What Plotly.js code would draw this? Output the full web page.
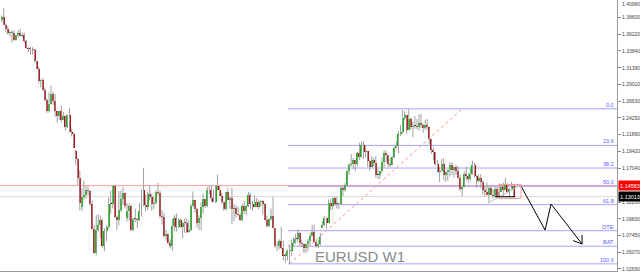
<!DOCTYPE html>
<html><head><meta charset="utf-8">
<script src="https://cdn.plot.ly/plotly-3.0.1.min.js"></script>
<style>html,body{margin:0;padding:0;background:#fff;overflow:hidden}#chart{width:640px;height:272px}</style>
</head><body><div id="chart"></div>
<script>
// EURUSD weekly candles (Apr 2014 - Feb 2019)
const opens=[1.3830,1.3870,1.3757,1.3696,1.3634,1.3637,1.3642,1.3541,1.3605,1.3645,1.3597,1.3606,1.3525,1.3430,1.3413,1.3411,1.3402,1.3240,1.3130,1.2950,1.2960,1.2830,1.2685,1.2520,1.2625,1.2760,1.2670,1.2525,1.2450,1.2525,1.2390,1.2450,1.2290,1.2465,1.2230,1.2190,1.1950,1.1840,1.1560,1.1150,1.1290,1.1320,1.1390,1.1380,1.1195,1.0840,1.0495,1.0820,1.0890,1.0970,1.0600,1.0810,1.0870,1.1200,1.1200,1.1450,1.1010,1.0970,1.1110,1.1270,1.1350,1.1000,1.1100,1.1160,1.0830,1.0980,1.0980,1.0970,1.1100,1.1390,1.1180,1.1150,1.1340,1.1300,1.1200,1.1210,1.1360,1.1350,1.1020,1.1010,1.0740,1.0770,1.0640,1.0590,1.0880,1.0990,1.0870,1.0970,1.0860,1.0920,1.0920,1.0800,1.0830,1.1160,1.1250,1.1130,1.0930,1.1000,1.1150,1.1270,1.1170,1.1390,1.1400,1.1280,1.1220,1.1450,1.1400,1.1310,1.1220,1.1130,1.1360,1.1250,1.1280,1.1120,1.1140,1.1050,1.1040,1.0970,1.1170,1.1090,1.1160,1.1330,1.1200,1.1150,1.1230,1.1150,1.1230,1.1240,1.1200,1.0970,1.0880,1.0980,1.1030,1.0850,1.0590,1.0590,1.0660,1.0560,1.0450,1.0450,1.0520,1.0530,1.0640,1.0700,1.0700,1.0780,1.0640,1.0620,1.0560,1.0620,1.0670,1.0740,1.0800,1.0650,1.0590,1.0620,1.0850,1.0890,1.0990,1.0930,1.1210,1.1160,1.1280,1.1200,1.1200,1.1190,1.1430,1.1400,1.1470,1.1660,1.1750,1.1770,1.1820,1.1760,1.1920,1.1860,1.2040,1.1940,1.1950,1.1810,1.1730,1.1820,1.1780,1.1610,1.1610,1.1660,1.1790,1.1930,1.1890,1.1770,1.1750,1.1860,1.2000,1.2030,1.2200,1.2220,1.2420,1.2460,1.2250,1.2410,1.2300,1.2310,1.2310,1.2290,1.2350,1.2320,1.2280,1.2330,1.2290,1.2130,1.1960,1.1940,1.1770,1.1650,1.1660,1.1770,1.1610,1.1650,1.1680,1.1750,1.1680,1.1720,1.1660,1.1570,1.1410,1.1440,1.1620,1.1600,1.1550,1.1620,1.1750,1.1600,1.1520,1.1560,1.1510,1.1400,1.1370,1.1330,1.1420,1.1330,1.1310,1.1410,1.1310,1.1370,1.1440,1.1400,1.1470,1.1360,1.1410,1.1450];
const highs=[1.3889,1.3993,1.3774,1.3734,1.3669,1.3677,1.3677,1.3614,1.3679,1.3700,1.3646,1.3640,1.3537,1.3445,1.3445,1.3435,1.3408,1.3240,1.3160,1.2975,1.3000,1.2860,1.2700,1.2790,1.2887,1.2800,1.2770,1.2530,1.2525,1.2600,1.2510,1.2455,1.2475,1.2570,1.2270,1.2215,1.1970,1.1860,1.1680,1.1420,1.1530,1.1450,1.1450,1.1390,1.1240,1.0890,1.1040,1.1050,1.1030,1.0990,1.0850,1.0890,1.1290,1.1390,1.1467,1.1450,1.1030,1.1380,1.1390,1.1440,1.1360,1.1210,1.1210,1.1190,1.0990,1.1130,1.0990,1.1210,1.1390,1.1714,1.1330,1.1370,1.1460,1.1340,1.1300,1.1390,1.1495,1.1390,1.1110,1.1070,1.0830,1.0770,1.0690,1.0980,1.1040,1.1060,1.0990,1.0990,1.0940,1.0990,1.0990,1.0960,1.1200,1.1375,1.1250,1.1140,1.1030,1.1220,1.1340,1.1270,1.1440,1.1450,1.1460,1.1400,1.1460,1.1616,1.1450,1.1350,1.1220,1.1370,1.1420,1.1300,1.1430,1.1190,1.1180,1.1160,1.1060,1.1200,1.1240,1.1180,1.1370,1.1350,1.1240,1.1320,1.1280,1.1260,1.1250,1.1250,1.1210,1.1030,1.0990,1.1130,1.1300,1.0850,1.0660,1.0690,1.0870,1.0670,1.0490,1.0550,1.0620,1.0690,1.0720,1.0770,1.0830,1.0790,1.0680,1.0620,1.0630,1.0700,1.0780,1.0900,1.0900,1.0690,1.0680,1.0780,1.0950,1.1020,1.1000,1.1260,1.1270,1.1290,1.1300,1.1300,1.1220,1.1450,1.1440,1.1490,1.1680,1.1780,1.1910,1.1850,1.1830,1.1940,1.2070,1.2090,1.2090,1.2030,1.1960,1.1830,1.1880,1.1860,1.1880,1.1690,1.1670,1.1860,1.1960,1.1960,1.1900,1.1860,1.1880,1.2010,1.2090,1.2240,1.2320,1.2540,1.2520,1.2470,1.2555,1.2430,1.2370,1.2450,1.2410,1.2480,1.2480,1.2350,1.2400,1.2410,1.2290,1.2130,1.2000,1.1940,1.1830,1.1730,1.1840,1.1850,1.1660,1.1690,1.1790,1.1790,1.1720,1.1750,1.1740,1.1610,1.1440,1.1660,1.1730,1.1640,1.1720,1.1815,1.1790,1.1610,1.1620,1.1620,1.1530,1.1460,1.1500,1.1440,1.1470,1.1410,1.1440,1.1440,1.1490,1.1460,1.1500,1.1570,1.1490,1.1420,1.1510,1.1460];
const lows=[1.3796,1.3750,1.3648,1.3613,1.3585,1.3503,1.3524,1.3531,1.3575,1.3590,1.3573,1.3500,1.3418,1.3365,1.3333,1.3331,1.3220,1.3120,1.2920,1.2860,1.2815,1.2660,1.2500,1.2500,1.2620,1.2610,1.2440,1.2357,1.2400,1.2360,1.2390,1.2245,1.2280,1.2220,1.2160,1.2000,1.1755,1.1460,1.1100,1.1100,1.1260,1.1270,1.1320,1.1170,1.0840,1.0485,1.0462,1.0800,1.0710,1.0570,1.0520,1.0660,1.0840,1.1060,1.1130,1.0990,1.0820,1.0890,1.1080,1.1180,1.1130,1.0950,1.0960,1.0810,1.0810,1.0930,1.0850,1.0950,1.1020,1.1160,1.1090,1.1110,1.1250,1.1100,1.1120,1.1190,1.1320,1.0990,1.0900,1.0720,1.0670,1.0630,1.0560,1.0524,1.0800,1.0800,1.0850,1.0860,1.0710,1.0780,1.0780,1.0780,1.0810,1.1160,1.1070,1.0860,1.0820,1.0820,1.1060,1.1140,1.1150,1.1330,1.1230,1.1220,1.1210,1.1400,1.1310,1.1200,1.1100,1.1100,1.1250,1.1130,1.0910,1.0950,1.1000,1.1030,1.0950,1.0950,1.1050,1.1040,1.1150,1.1120,1.1100,1.1150,1.1150,1.1120,1.1160,1.1050,1.0970,1.0860,1.0860,1.0960,1.0850,1.0570,1.0520,1.0550,1.0550,1.0390,1.0352,1.0390,1.0340,1.0450,1.0580,1.0620,1.0650,1.0590,1.0570,1.0500,1.0490,1.0520,1.0600,1.0730,1.0650,1.0570,1.0570,1.0610,1.0850,1.0880,1.0840,1.0920,1.1110,1.1110,1.1170,1.1130,1.1120,1.1180,1.1310,1.1370,1.1440,1.1610,1.1730,1.1690,1.1660,1.1730,1.1820,1.1860,1.1840,1.1860,1.1720,1.1670,1.1730,1.1730,1.1570,1.1550,1.1550,1.1640,1.1710,1.1790,1.1720,1.1720,1.1750,1.1850,1.1990,1.1920,1.2170,1.2200,1.2390,1.2200,1.2250,1.2260,1.2150,1.2270,1.2260,1.2240,1.2280,1.2210,1.2250,1.2260,1.2050,1.1910,1.1820,1.1750,1.1640,1.1510,1.1660,1.1540,1.1510,1.1530,1.1590,1.1610,1.1570,1.1610,1.1560,1.1380,1.1301,1.1430,1.1530,1.1500,1.1530,1.1610,1.1570,1.1430,1.1500,1.1430,1.1330,1.1300,1.1320,1.1215,1.1320,1.1270,1.1290,1.1270,1.1300,1.1370,1.1310,1.1400,1.1360,1.1290,1.1400,1.1301];
const closes=[1.3870,1.3757,1.3696,1.3634,1.3637,1.3642,1.3541,1.3605,1.3645,1.3597,1.3606,1.3525,1.3430,1.3413,1.3411,1.3402,1.3240,1.3130,1.2950,1.2960,1.2830,1.2685,1.2520,1.2625,1.2760,1.2670,1.2525,1.2450,1.2525,1.2390,1.2450,1.2290,1.2465,1.2230,1.2190,1.2000,1.1840,1.1560,1.1205,1.1290,1.1320,1.1390,1.1380,1.1195,1.0840,1.0495,1.0820,1.0890,1.0970,1.0600,1.0810,1.0870,1.1200,1.1200,1.1450,1.1010,1.0970,1.1110,1.1270,1.1350,1.1160,1.1100,1.1160,1.0830,1.0980,1.0980,1.0970,1.1100,1.1390,1.1180,1.1150,1.1340,1.1300,1.1200,1.1210,1.1360,1.1350,1.1020,1.1010,1.0740,1.0770,1.0640,1.0590,1.0880,1.0990,1.0870,1.0970,1.0860,1.0920,1.0920,1.0800,1.0830,1.1160,1.1250,1.1130,1.0930,1.1000,1.1150,1.1270,1.1170,1.1390,1.1400,1.1280,1.1220,1.1450,1.1400,1.1310,1.1220,1.1130,1.1360,1.1250,1.1280,1.1120,1.1140,1.1050,1.1040,1.0970,1.1170,1.1090,1.1160,1.1330,1.1200,1.1150,1.1230,1.1150,1.1230,1.1240,1.1200,1.0970,1.0880,1.0980,1.1030,1.0850,1.0590,1.0590,1.0660,1.0560,1.0450,1.0450,1.0520,1.0530,1.0640,1.0700,1.0700,1.0780,1.0640,1.0620,1.0560,1.0620,1.0670,1.0740,1.0800,1.0650,1.0590,1.0620,1.0720,1.0890,1.0990,1.0930,1.1210,1.1160,1.1280,1.1200,1.1200,1.1190,1.1430,1.1400,1.1470,1.1660,1.1750,1.1770,1.1820,1.1760,1.1920,1.1860,1.2040,1.1940,1.1950,1.1810,1.1730,1.1820,1.1780,1.1610,1.1610,1.1660,1.1790,1.1930,1.1890,1.1770,1.1750,1.1860,1.2000,1.2030,1.2200,1.2220,1.2420,1.2460,1.2250,1.2410,1.2300,1.2310,1.2310,1.2290,1.2350,1.2320,1.2280,1.2330,1.2290,1.2130,1.1960,1.1940,1.1770,1.1650,1.1660,1.1770,1.1610,1.1650,1.1680,1.1750,1.1680,1.1720,1.1660,1.1570,1.1410,1.1440,1.1620,1.1600,1.1550,1.1620,1.1750,1.1600,1.1520,1.1560,1.1510,1.1400,1.1370,1.1330,1.1420,1.1330,1.1310,1.1410,1.1310,1.1370,1.1440,1.1400,1.1470,1.1360,1.1410,1.1450,1.13013];

const yTickVals=[1.40980,1.38600,1.36220,1.33840,1.31390,1.29010,1.26630,1.24250,1.21890,1.19420,1.17040,1.12210,1.09830,1.07450,1.05070,1.02690];
const yTickText=['1.40980','1.38600','1.36220','1.33840','1.31390','1.29010','1.26630','1.24250','1.21890','1.19420','1.17040','1.12210','1.09830','1.07450','1.05070','1.02690'];

const fibAnchorX=[140,224];
const fibAnchorPrice=[1.0340,1.2555];
const fibLevels=[0,23.6,38.2,50,61.8,78.6,88.6,100];
const fibLabels=['0.0','23.6','38.2','50.0','61.8','OTE','BAT','100.0'];

const redLevel=1.14583;
const redLabel='1.14583';
const bidLabel='1.13013';

const zigX=[252.6,264.3,267.2,282.3];
const zigY=[1.1452,1.0823,1.1195,1.0623];
const headX=[278.0,282.3,282.3];
const headY=[1.0673,1.0623,1.0752];

const boxX=[241.9,252.6];
const boxY=[1.1275,1.1475];
const wedgeX=[236.5,253.1];
const wedgeY=[1.1209,1.1475];
const baseX=[240,249.7];
const baseY=[1.1299,1.1299];

const xRange=[-0.827,299.3];
const yRange=[1.0238,1.4110];

const n=closes.length;
const idx=[...Array(n).keys()];
const wx=[],wy=[];
for(let i=0;i<n;i++){wx.push(i,i,null);wy.push(lows[i],highs[i],null);}
const bodyBase=[],bodyLen=[],bodyCol=[];
for(let i=0;i<n;i++){
  const lo=Math.min(opens[i],closes[i]),hi=Math.max(opens[i],closes[i]);
  bodyBase.push(lo);bodyLen.push(Math.max(hi-lo,0.0012));
  bodyCol.push(closes[i]>opens[i]?'#00b800':(closes[i]<opens[i]?'#b80000':'#000000'));
}

const traces=[
 {type:'scatter',mode:'lines',x:wx,y:wy,line:{color:'#a0a0a0',width:1},hoverinfo:'skip'},
 {type:'bar',x:idx,base:bodyBase,y:bodyLen,width:0.97,marker:{color:bodyCol,line:{width:0}},hoverinfo:'skip'},
 {type:'scatter',mode:'lines',x:zigX,y:zigY,line:{color:'#000',width:1}},
 {type:'scatter',mode:'lines',x:headX,y:headY,line:{color:'#000',width:1}}
];

const shapes=[];
const fibHi=fibAnchorPrice[1],fibLo=fibAnchorPrice[0];
const fibPrices=fibLevels.map(l=>fibHi-(fibHi-fibLo)*l/100);
fibPrices.forEach(p=>shapes.push({type:'line',layer:'below',xref:'x',yref:'y',x0:fibAnchorX[0]-0.7,x1:xRange[1],y0:p,y1:p,line:{color:'#a3a3ff',width:1}}));
shapes.push({type:'line',layer:'below',xref:'paper',yref:'y',x0:0,x1:1,y0:redLevel,y1:redLevel,line:{color:'#ff9a9a',width:1}});
shapes.push({type:'line',layer:'below',xref:'paper',yref:'y',x0:0,x1:1,y0:closes[n-1],y1:closes[n-1],line:{color:'#dcdcdc',width:1}});
shapes.push({type:'line',xref:'x',yref:'y',x0:fibAnchorX[0],x1:fibAnchorX[1],y0:fibLo,y1:fibHi,line:{color:'#ff8c8c',width:1,dash:'dot'}});
shapes.push({type:'rect',xref:'x',yref:'y',x0:boxX[0],x1:boxX[1],y0:boxY[0],y1:boxY[1],line:{color:'#f2a0a0',width:1}});
shapes.push({type:'line',xref:'x',yref:'y',x0:wedgeX[0],x1:wedgeX[1],y0:wedgeY[0],y1:wedgeY[1],line:{color:'#c4c4c4',width:1}});
shapes.push({type:'line',xref:'x',yref:'y',x0:baseX[0],x1:baseX[1],y0:baseY[0],y1:baseY[1],line:{color:'#000',width:1}});

const annotations=[];
fibPrices.forEach((p,i)=>annotations.push({xref:'paper',yref:'y',x:0.996,y:p,xanchor:'right',yanchor:'bottom',showarrow:false,text:fibLabels[i],font:{family:'Liberation Sans, Arial',size:5.5,color:'#5a5aff'},borderpad:0,yshift:0}));
annotations.push({xref:'paper',yref:'y',x:1.002,y:redLevel,xanchor:'left',yanchor:'middle',showarrow:false,text:redLabel,bgcolor:'#ff0000',font:{family:'Liberation Sans, Arial',size:5.5,color:'#fff'},width:20,height:7,borderpad:1});
annotations.push({xref:'paper',yref:'y',x:1.002,y:closes[n-1],xanchor:'left',yanchor:'middle',showarrow:false,text:bidLabel,bgcolor:'#000000',font:{family:'Liberation Sans, Arial',size:5.5,color:'#fff'},width:20,height:7,borderpad:1});
annotations.push({xref:'paper',yref:'paper',x:1.002,y:1,xanchor:'left',yanchor:'top',showarrow:false,text:yTickText[0],font:{family:'Liberation Sans, Arial',size:5,color:'#444'},xshift:3,yshift:0,borderpad:0});
annotations.push({xref:'paper',yref:'paper',x:0.508,y:0.053,xanchor:'left',yanchor:'middle',showarrow:false,text:'EURUSD W1',font:{family:'Liberation Sans, Arial',size:15,color:'#8a8a8a'}});

const layout={
 width:640,height:272,margin:{l:0,r:23,t:0,b:1},
 paper_bgcolor:'#ffffff',plot_bgcolor:'#ffffff',showlegend:false,bargap:0,
 xaxis:{range:xRange,showgrid:false,zeroline:false,showticklabels:false,ticks:'',showline:true,linecolor:'#9a9a9a',linewidth:1,fixedrange:true},
 yaxis:{side:'right',range:yRange,tickmode:'array',tickvals:yTickVals.slice(1),ticktext:yTickText.slice(1),
   tickfont:{family:'Liberation Sans, Arial',size:5,color:'#444'},ticks:'outside',ticklen:3,tickcolor:'#888',
   showline:true,linecolor:'#9a9a9a',linewidth:1,showgrid:false,zeroline:false,fixedrange:true},
 shapes:shapes,annotations:annotations
};
Plotly.newPlot('chart',traces,layout,{staticPlot:true,displayModeBar:false});
</script></body></html>
